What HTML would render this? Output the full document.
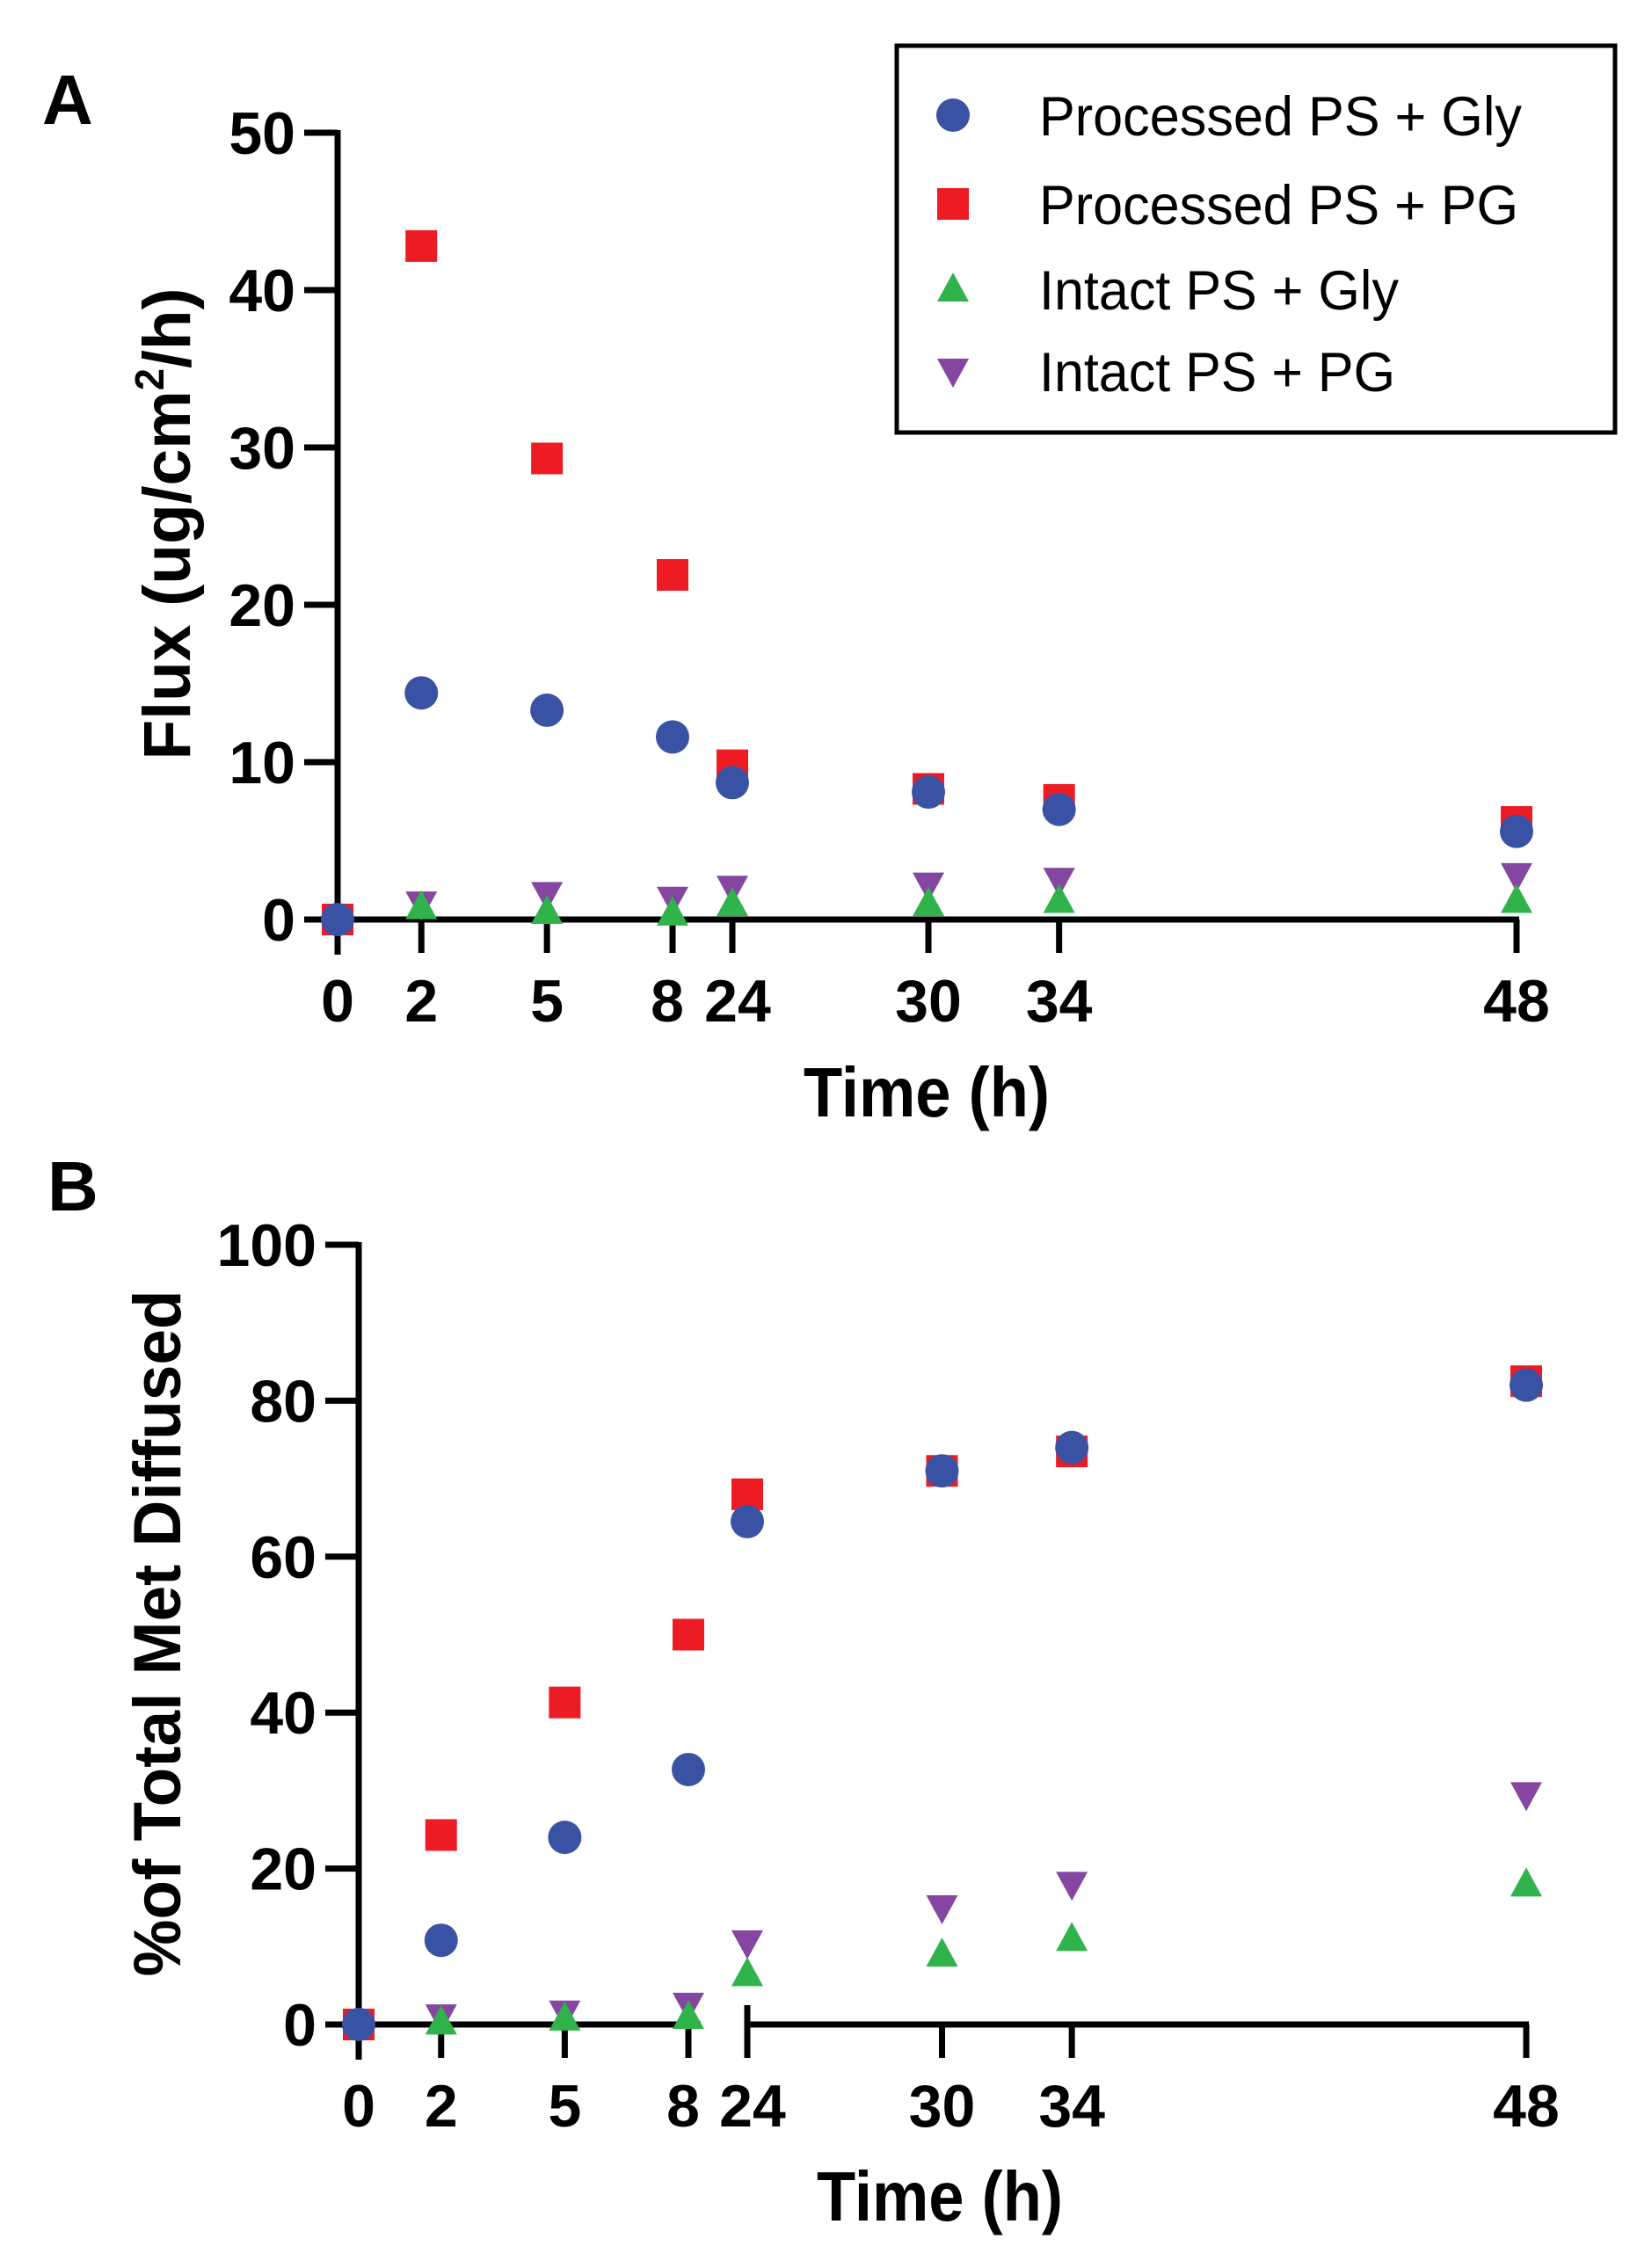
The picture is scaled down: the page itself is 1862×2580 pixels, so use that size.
<!DOCTYPE html>
<html><head><meta charset="utf-8"><style>
html,body{margin:0;padding:0;background:#fff;}
svg{display:block;font-family:"Liberation Sans",Arial,sans-serif;}
</style></head><body>
<svg id="fig" width="1862" height="2580" viewBox="0 0 1862 2580" xmlns="http://www.w3.org/2000/svg">
<rect width="1862" height="2580" fill="#fff"/>
<g id="panelA"></g>
<g id="panelB"></g>
<g id="legend"></g>
</svg>
<script>
const times = [0, 2, 5, 8, 24, 30, 34, 48];
const seriesNames = ["Processed PS + Gly", "Processed PS + PG", "Intact PS + Gly", "Intact PS + PG"];
const fluxProcGly = [0, 14.4, 13.3, 11.6, 8.7, 8.1, 7.0, 5.6];
const fluxProcPG = [0, 42.8, 29.3, 21.9, 9.8, 8.3, 7.6, 6.2];
const fluxIntGly = [0, 0.8, 0.5, 0.4, 1.0, 1.0, 1.2, 1.2];
const fluxIntPG = [0, 1.0, 1.6, 1.3, 2.0, 2.2, 2.5, 2.8];
const pctProcGly = [0, 10.8, 24, 32.7, 64.5, 71, 74, 82];
const pctProcPG = [0, 24.3, 41.3, 50, 68, 71, 73.5, 82.5];
const pctIntGly = [0, 0.3, 0.8, 1.0, 6.5, 9, 11, 18];
const pctIntPG = [0, 1, 1.5, 2.5, 10.5, 15, 18, 29.5];
const yTicksA = [0, 10, 20, 30, 40, 50];
const yTicksB = [0, 20, 40, 60, 80, 100];

const NS = "http://www.w3.org/2000/svg";
const colors = ["#3a52a4", "#ed1c24", "#2fb34a", "#8446a0"];
const shapes = ["circle", "square", "up", "down"];
const legendWidths = [549, 545, 409, 405];

function el(tag, attrs, parent) {
  const e = document.createElementNS(NS, tag);
  for (const k in attrs) e.setAttribute(k, attrs[k]);
  parent.appendChild(e);
  return e;
}
function marker(parent, shape, cx, cy, color, name) {
  let m;
  if (shape === "circle") m = el("ellipse", {cx: cx, cy: cy, rx: 19, ry: 19, fill: color}, parent);
  else if (shape === "square") m = el("rect", {x: cx - 18, y: cy - 18, width: 36, height: 36, fill: color}, parent);
  else if (shape === "up") m = el("polygon", {points: `${cx},${cy-19} ${cx+18},${cy+14} ${cx-18},${cy+14}`, fill: color}, parent);
  else m = el("polygon", {points: `${cx-18},${cy-14} ${cx+18},${cy-14} ${cx},${cy+19}`, fill: color}, parent);
  
  
  return m;
}

function drawPanel(g, cfg) {
  const xScale = t => t <= 8 ? cfg.x0 + t * (cfg.x8 - cfg.x0) / 8 : cfg.x24 + (t - 24) * (cfg.x48 - cfg.x24) / 24;
  const yScale = v => cfg.yBot - v * (cfg.yBot - cfg.yTop) / cfg.yMax;
  const ya = el("line", {x1: cfg.x0, y1: cfg.yTop - 3, x2: cfg.x0, y2: cfg.yBot + 40, stroke: "#000", "stroke-width": 7}, g);
  
  
  cfg.yTicks.forEach(v => {
    const y = yScale(v);
    const t = el("line", {x1: cfg.x0 - 38, y1: y, x2: cfg.x0, y2: y, stroke: "#000", "stroke-width": 7}, g);
    
    
    const lb = el("text", {x: cfg.x0 - 48, y: y + 24, "text-anchor": "end", "font-size": 68, "font-weight": "bold"}, g);
    lb.textContent = v;
    
    
  });
  if (cfg.broken) {
    const a1 = el("line", {x1: cfg.x0, y1: cfg.yBot, x2: cfg.x8 + 14, y2: cfg.yBot, stroke: "#000", "stroke-width": 7}, g);
    
    
    const a2 = el("line", {x1: cfg.x24, y1: cfg.yBot, x2: cfg.x48 + 3, y2: cfg.yBot, stroke: "#000", "stroke-width": 7}, g);
    
    
    const br = el("line", {x1: cfg.x24, y1: cfg.yBot - 22, x2: cfg.x24, y2: cfg.yBot, stroke: "#000", "stroke-width": 7}, g);
    
    
  } else {
    const a = el("line", {x1: cfg.x0, y1: cfg.yBot, x2: cfg.x48 + 3, y2: cfg.yBot, stroke: "#000", "stroke-width": 7}, g);
    
    
  }
  times.forEach(t => {
    const x = xScale(t);
    const tk = el("line", {x1: x, y1: cfg.yBot, x2: x, y2: cfg.yBot + 38, stroke: "#000", "stroke-width": 7}, g);
    
    
    const lb = el("text", {x: t === 8 ? x - 6 : (t === 24 ? x + 6 : x), y: cfg.yBot + 116, "text-anchor": "middle", "font-size": 68, "font-weight": "bold"}, g);
    lb.textContent = t;
    
    
  });
  const xt = el("text", {x: cfg.xTitleX, y: cfg.xTitleY, "text-anchor": "middle", "font-size": 80, "font-weight": "bold", textLength: 280, lengthAdjust: "spacingAndGlyphs"}, g);
  xt.textContent = "Time (h)";
  
  
  [3, 2, 1, 0].forEach(si => {
    cfg.series[si].forEach((v, i) => {
      marker(g, shapes[si], xScale(times[i]), yScale(v), colors[si], 'point-' + si + '-' + times[i] + 'h');
    });
  });
}

const gA = document.getElementById("panelA");
drawPanel(gA, {x0: 384, x8: 765, x24: 833, x48: 1725, yTop: 151, yBot: 1046, yMax: 50,
  yTicks: yTicksA, broken: false, xTitleX: 1054, xTitleY: 1270,
  series: [fluxProcGly, fluxProcPG, fluxIntGly, fluxIntPG]});
const ytA = el("text", {x: 0, y: 0, transform: "translate(216,596) rotate(-90)", "text-anchor": "middle", "font-size": 76, "font-weight": "bold", textLength: 537, lengthAdjust: "spacingAndGlyphs"}, gA);
ytA.innerHTML = 'Flux (ug/cm<tspan font-size="46" dy="-30">2</tspan><tspan dy="30">/h)</tspan>';


const lA = el("text", {x: 48, y: 141, "font-size": 80, "font-weight": "bold"}, gA);
lA.textContent = "A";



const gB = document.getElementById("panelB");
drawPanel(gB, {x0: 408, x8: 783, x24: 850, x48: 1736, yTop: 1416, yBot: 2303, yMax: 100,
  yTicks: yTicksB, broken: true, xTitleX: 1069, xTitleY: 2526,
  series: [pctProcGly, pctProcPG, pctIntGly, pctIntPG]});
const ytB = el("text", {x: 0, y: 0, transform: "translate(205,1858) rotate(-90)", "text-anchor": "middle", "font-size": 76, "font-weight": "bold", textLength: 781, lengthAdjust: "spacingAndGlyphs"}, gB);
ytB.textContent = "%of Total Met Diffused";


const lB = el("text", {x: 54, y: 1377, "font-size": 80, "font-weight": "bold"}, gB);
lB.textContent = "B";



const gL = document.getElementById("legend");
const box = el("rect", {x: 1020, y: 52, width: 817, height: 440, fill: "#fff", stroke: "#000", "stroke-width": 5}, gL);


const rowsY = [131, 232, 329, 422];
seriesNames.forEach((n, i) => {
  marker(gL, shapes[i], 1084, rowsY[i], colors[i], 'legend-marker');
  const t = el("text", {x: 1182, y: rowsY[i] + 23, "font-size": 63, textLength: legendWidths[i], lengthAdjust: "spacingAndGlyphs"}, gL);
  t.textContent = n;
  
  
});
</script>
</body></html>
